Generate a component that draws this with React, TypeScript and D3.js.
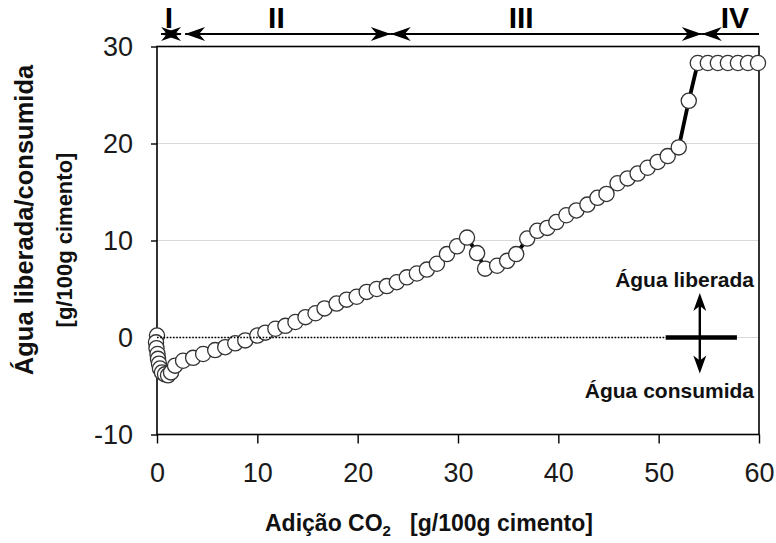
import React, { useEffect, useRef } from 'react';
import * as d3 from 'd3';

// CO2 addition [g/100g cement]
const co2Added = [
  0, -0.1, -0.05, 0.05, 0.1, 0.2, 0.3, 0.5, 0.8, 1.1, 1.4, 1.8,
  2.6, 3.6, 4.6, 5.8, 6.8, 7.8, 8.8, 10.0, 10.8, 11.8, 12.8, 13.8, 14.8, 15.8,
  16.7, 17.9, 18.9, 19.9, 20.9, 21.9, 22.9, 23.9, 24.9, 25.9, 26.9, 27.9, 28.9,
  29.9, 30.9, 31.9, 32.7, 33.9, 34.9, 35.8, 36.9, 37.9, 38.9, 39.8, 40.8, 41.8,
  42.9, 43.9, 44.8, 45.9, 46.9, 47.9, 48.9, 49.9, 50.9, 52.0, 53.0,
  53.9, 54.9, 55.9, 56.9, 57.9, 58.9, 59.9,
];
// water released (+) / consumed (-) [g/100g cement]
const waterBalance = [
  0.2, -0.5, -1.1, -1.7, -2.2, -2.7, -3.2, -3.6, -3.8, -3.9, -3.6, -2.9,
  -2.4, -2.1, -1.7, -1.3, -1.0, -0.6, -0.3, 0.2, 0.5, 0.9, 1.2, 1.6, 2.1, 2.5,
  3.0, 3.5, 3.9, 4.2, 4.7, 5.0, 5.3, 5.7, 6.2, 6.6, 7.0, 7.6, 8.6,
  9.4, 10.3, 8.7, 7.1, 7.4, 7.9, 8.6, 10.2, 11.0, 11.3, 11.9, 12.6, 13.1,
  13.7, 14.4, 14.8, 15.9, 16.4, 16.9, 17.5, 18.1, 18.7, 19.6, 24.4,
  28.3, 28.3, 28.3, 28.3, 28.3, 28.3, 28.3,
];

const xTicks = [0, 10, 20, 30, 40, 50, 60];
const yTicks = [-10, 0, 10, 20, 30];
const gridLines = [0, 10, 20];

const phaseLabels = ['I', 'II', 'III', 'IV'];
const phaseStart = [0.4, 2.8, 23.3, 54.3];
const phaseEnd = [2.4, 23.3, 54.3, 60];
const phaseLabelX = [1.2, 11.9, 36.3, 57.6];
const phaseEndHead = [true, true, true, false];

const W = 776;
const H = 543;
const FONT = '"Liberation Sans", Arial, sans-serif';

const App: React.FC = () => {
  const svgRef = useRef<SVGSVGElement>(null);

  useEffect(() => {
    document.body.style.margin = '0';
    if (!svgRef.current) return;
    const svg = d3.select(svgRef.current);
    svg.selectAll('*').remove();

    const x = d3.scaleLinear().domain([0, 60]).range([157, 759]);
    const y = d3.scaleLinear().domain([-10, 30]).range([434.5, 46.5]);

    // light gridlines
    svg.append('g')
      .selectAll('line')
      .data(gridLines)
      .enter()
      .append('line')
      .attr('x1', x(0)).attr('x2', x(60))
      .attr('y1', d => y(d)).attr('y2', d => y(d))
      .attr('stroke', '#d9d9d9')
      .attr('stroke-width', 1);

    // frame
    svg.append('rect')
      .attr('x', x(0)).attr('y', y(30))
      .attr('width', x(60) - x(0)).attr('height', y(-10) - y(30))
      .attr('fill', 'none')
      .attr('stroke', '#000')
      .attr('stroke-width', 1.6);

    // axes
    const yAxis = svg.append('g')
      .attr('transform', `translate(${x(0)},0)`)
      .call(d3.axisLeft(y).tickValues(yTicks).tickSize(6).tickPadding(18).tickFormat(d => String(d)));
    const xAxis = svg.append('g')
      .attr('transform', `translate(0,${y(-10)})`)
      .call(d3.axisBottom(x).tickValues(xTicks).tickSize(9).tickPadding(19).tickFormat(d => String(d)));
    [yAxis, xAxis].forEach(a => {
      a.select('.domain').remove();
      a.selectAll('line').attr('stroke', '#000').attr('stroke-width', 1.4);
      a.selectAll('text')
        .attr('fill', '#1a1a1a')
        .style('font-family', FONT)
        .style('font-size', '27px');
    });

    // connecting line
    const pts: [number, number][] = co2Added.map((v, i) => [v, waterBalance[i]]);
    const line = d3.line<[number, number]>().x(d => x(d[0])).y(d => y(d[1]));
    svg.append('path')
      .attr('d', line(pts) || '')
      .attr('fill', 'none')
      .attr('stroke', '#000')
      .attr('stroke-width', 3.8)
      .attr('stroke-linejoin', 'round');

    // markers
    svg.append('g')
      .selectAll('circle')
      .data(pts)
      .enter()
      .append('circle')
      .attr('cx', d => x(d[0]))
      .attr('cy', d => y(d[1]))
      .attr('r', 7.6)
      .attr('fill', '#fff')
      .attr('stroke', '#333')
      .attr('stroke-width', 1.3);

    // zero reference (dotted) + annotation
    const annX = 54.1;
    svg.append('line')
      .attr('x1', x(0)).attr('x2', x(50.7))
      .attr('y1', y(0)).attr('y2', y(0))
      .attr('stroke', '#000')
      .attr('stroke-width', 1.6)
      .attr('stroke-dasharray', '1.6,1.6');
    svg.append('line')
      .attr('x1', x(50.7)).attr('x2', x(57.8))
      .attr('y1', y(0)).attr('y2', y(0))
      .attr('stroke', '#000')
      .attr('stroke-width', 4.5);
    svg.append('line')
      .attr('x1', x(annX)).attr('x2', x(annX))
      .attr('y1', y(4.0)).attr('y2', y(-3.2))
      .attr('stroke', '#000')
      .attr('stroke-width', 2.4);
    const vHead = (tipY: number, dir: number) => {
      const cx = x(annX);
      const L = 18, Wd = 6.5, N = 5;
      return `M${cx},${tipY} L${cx - Wd},${tipY + dir * L} L${cx},${tipY + dir * (L - N)} L${cx + Wd},${tipY + dir * L} Z`;
    };
    svg.append('path').attr('d', vHead(y(4.6), 1)).attr('fill', '#000');
    svg.append('path').attr('d', vHead(y(-3.7), -1)).attr('fill', '#000');

    const annText = [
      { t: 'Água liberada', yy: 287 },
      { t: 'Água consumida', yy: 398 },
    ];
    svg.append('g')
      .selectAll('text')
      .data(annText)
      .enter()
      .append('text')
      .attr('x', 754)
      .attr('y', d => d.yy)
      .attr('text-anchor', 'end')
      .style('font-family', FONT)
      .style('font-weight', 'bold')
      .style('font-size', '21px')
      .attr('fill', '#111')
      .text(d => d.t);

    // phase arrows
    const arrowY = 34;
    const hHead = (tipX: number, dir: number) => {
      const L = 20, Wd = 7, N = 6;
      return `M${tipX},${arrowY} L${tipX - dir * L},${arrowY - Wd} L${tipX - dir * (L - N)},${arrowY} L${tipX - dir * L},${arrowY + Wd} Z`;
    };
    const ph = svg.append('g');
    phaseLabels.forEach((lab, i) => {
      const x0 = x(phaseStart[i]);
      const x1 = x(phaseEnd[i]);
      ph.append('line')
        .attr('x1', x0).attr('x2', x1)
        .attr('y1', arrowY).attr('y2', arrowY)
        .attr('stroke', '#000').attr('stroke-width', 2);
      ph.append('path').attr('d', hHead(x0, -1)).attr('fill', '#000');
      if (phaseEndHead[i]) ph.append('path').attr('d', hHead(x1, 1)).attr('fill', '#000');
      ph.append('text')
        .attr('x', x(phaseLabelX[i]))
        .attr('y', 28)
        .attr('text-anchor', 'middle')
        .style('font-family', '"Liberation Sans Narrow", "Arial Narrow", ' + FONT)
        .style('font-weight', 'bold')
        .style('font-size', '30px')
        .attr('fill', '#000')
        .text(lab);
    });

    // axis titles
    const yTitle = svg.append('g').attr('transform', 'rotate(-90)');
    yTitle.append('text')
      .attr('x', -220).attr('y', 33)
      .attr('text-anchor', 'middle')
      .style('font-family', FONT)
      .style('font-weight', 'bold')
      .style('font-size', '25.5px')
      .attr('fill', '#111')
      .text('Água liberada/consumida');
    yTitle.append('text')
      .attr('x', -240).attr('y', 72)
      .attr('text-anchor', 'middle')
      .style('font-family', FONT)
      .style('font-weight', 'bold')
      .style('font-size', '22px')
      .attr('fill', '#111')
      .text('[g/100g cimento]');

    const xt = svg.append('text')
      .attr('x', 265).attr('y', 531)
      .style('font-family', FONT)
      .style('font-weight', 'bold')
      .style('font-size', '23px')
      .attr('fill', '#111');
    xt.append('tspan').text('Adição CO');
    xt.append('tspan').attr('dy', 5).style('font-size', '15px').text('2');
    xt.append('tspan').attr('dy', -5).text('\u00a0\u00a0 [g/100g cimento]');
  }, []);

  return (
    <svg ref={svgRef} width={W} height={H} style={{ display: 'block', background: '#fff' }} />
  );
};

export default App;
